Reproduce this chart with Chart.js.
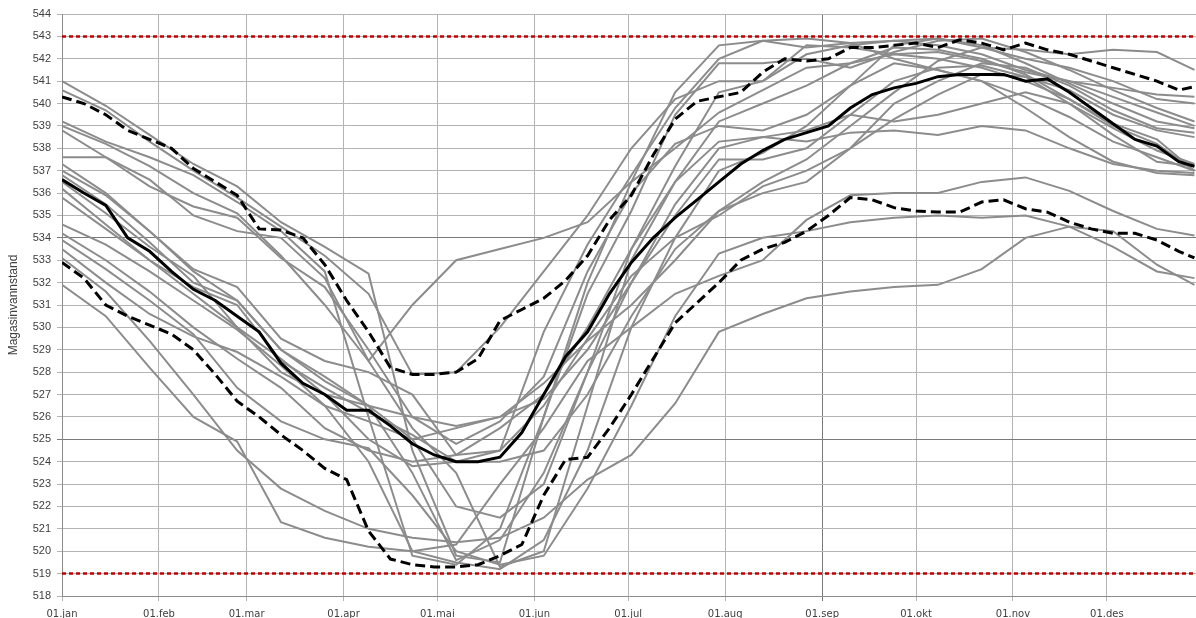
<!DOCTYPE html>
<html>
<head>
<meta charset="utf-8">
<script src="https://cdn.jsdelivr.net/npm/chart.js@4.4.1/dist/chart.umd.min.js"></script>
<style>
  body { margin: 0; background: #fff; }
</style>
</head>
<body>
<canvas id="grafico" width="1196" height="618"></canvas>
<script>
// dag i året (0 = 01.jan)
const monthDays = [0, 31, 59, 90, 120, 151, 181, 212, 243, 273, 304, 334];
const monthLabels = ['01.jan', '01.feb', '01.mar', '01.apr', '01.mai', '01.jun', '01.jul', '01.aug', '01.sep', '01.okt', '01.nov', '01.des'];
const yTicks = [518, 544];
const limits = [543, 519];

const daysFine = [0, 7, 14, 21, 28, 35, 42, 49, 56, 63, 70, 77, 84, 91, 98, 105, 112, 119, 126, 133, 140, 147, 154, 161, 168, 175, 182, 189, 196, 203, 210, 217, 224, 231, 238, 245, 252, 259, 266, 273, 280, 287, 294, 301, 308, 315, 322, 329, 336, 343, 350, 357, 362];
const daysCoarse = [0, 14, 28, 42, 56, 70, 84, 98, 112, 126, 140, 154, 168, 182, 196, 210, 224, 238, 252, 266, 280, 294, 308, 322, 336, 350, 362];

const median = [536.6, 536.0, 535.45, 534.0, 533.4, 532.5, 531.7, 531.2, 530.5, 529.8, 528.4, 527.5, 527.0, 526.3, 526.3, 525.6, 524.8, 524.3, 524.0, 524.0, 524.2, 525.3, 527.0, 528.7, 529.8, 531.5, 532.9, 534.0, 534.9, 535.7, 536.5, 537.3, 537.9, 538.4, 538.7, 539.0, 539.8, 540.4, 540.7, 540.9, 541.2, 541.3, 541.3, 541.3, 541.0, 541.1, 540.5, 539.8, 539.1, 538.4, 538.1, 537.4, 537.2];
const upper = [540.3, 540.0, 539.5, 538.8, 538.4, 538.0, 537.1, 536.5, 535.9, 534.4, 534.35, 534.0, 532.8, 531.2, 529.8, 528.2, 527.9, 527.9, 528.0, 528.6, 530.3, 530.8, 531.3, 532.1, 533.2, 534.8, 535.9, 537.7, 539.3, 540.1, 540.3, 540.5, 541.4, 542.0, 541.9, 542.0, 542.5, 542.5, 542.6, 542.7, 542.5, 542.85, 542.7, 542.4, 542.7, 542.4, 542.2, 541.9, 541.6, 541.3, 541.0, 540.6, 540.75];
const lower = [532.9, 532.2, 531.0, 530.5, 530.1, 529.7, 529.0, 527.9, 526.7, 526.0, 525.2, 524.5, 523.7, 523.2, 520.9, 519.65, 519.4, 519.3, 519.3, 519.4, 519.8, 520.3, 522.5, 524.1, 524.2, 525.5, 527.0, 528.6, 530.2, 531.1, 532.0, 533.0, 533.5, 533.8, 534.3, 535.0, 535.8, 535.7, 535.35, 535.2, 535.15, 535.15, 535.6, 535.7, 535.3, 535.15, 534.7, 534.4, 534.2, 534.2, 533.9, 533.4, 533.1];

// enkeltår
const years = [
  [541.0, 539.9, 538.6, 537.3, 536.3, 534.7, 533.6, 532.4, 524.5, 519.8, 519.5, 526.0, 532.0, 536.5, 540.5, 542.6, 542.8, 542.5, 542.7, 542.8, 542.6, 542.2, 541.5, 541.0, 540.3, 539.6, 539.0],
  [540.6, 539.7, 538.3, 537.0, 535.8, 534.5, 533.2, 531.5, 527.9, 528.0, 530.0, 532.5, 535.0, 538.0, 540.2, 541.0, 541.0, 542.2, 542.6, 542.8, 542.9, 542.5, 542.4, 542.2, 542.4, 542.3, 541.5],
  [539.2, 538.3, 537.6, 536.8, 535.6, 534.3, 532.5, 526.0, 519.8, 519.4, 521.0, 526.0, 531.5, 535.2, 539.5, 541.8, 541.8, 542.0, 541.6, 542.3, 542.8, 542.9, 542.3, 541.5, 540.6, 539.8, 539.2],
  [539.0, 538.2, 537.2, 536.0, 535.1, 533.2, 531.0, 528.5, 525.5, 523.5, 519.3, 520.0, 526.5, 533.0, 536.5, 539.2, 540.0, 540.8, 541.8, 542.5, 542.4, 542.0, 541.3, 540.2, 539.0, 538.2, 537.0],
  [538.8, 537.6, 536.3, 535.4, 534.9, 533.1, 531.8, 529.0, 526.0, 524.8, 525.8, 527.8, 532.5, 536.0, 538.2, 539.0, 538.8, 539.5, 540.8, 541.8, 541.5, 541.0, 539.8, 538.5, 537.4, 536.9, 536.8],
  [537.6, 537.6, 536.6, 535.0, 534.3, 534.0, 532.2, 528.5, 531.0, 533.0, 533.5, 534.0, 534.7, 536.5, 538.0, 539.6, 540.6, 541.6, 541.8, 542.2, 542.0, 541.6, 541.0, 540.2, 539.1, 538.4, 537.0],
  [537.0, 535.9, 534.3, 532.5, 531.2, 529.0, 527.6, 526.5, 525.0, 522.0, 521.5, 523.0, 528.0, 532.0, 535.0, 537.5, 537.5, 538.0, 539.5, 541.0, 541.6, 541.7, 541.2, 540.0, 538.9, 537.9, 537.3],
  [536.5, 535.1, 533.6, 532.3, 530.0, 528.0, 527.0, 526.5, 526.0, 525.6, 526.0, 527.5, 529.4, 531.0, 533.0, 535.2, 536.5, 537.5, 539.0, 540.5, 541.9, 542.5, 542.0, 541.6, 541.0, 540.2, 540.0],
  [536.2, 534.6, 533.0, 531.5, 530.0, 528.6, 527.0, 525.0, 523.8, 524.0, 524.0, 524.5, 527.0, 530.5, 533.5, 535.2, 536.0, 536.5, 538.0, 540.0, 541.0, 541.8, 541.6, 540.8, 539.7, 538.9, 538.7],
  [534.6, 533.7, 532.5, 531.2, 529.9, 528.3, 526.5, 524.0, 520.0, 519.5, 519.2, 520.5, 524.5, 530.0, 534.0, 537.0, 537.8, 539.0, 540.8, 542.6, 542.9, 542.6, 541.8, 540.9, 540.0, 539.2, 538.9],
  [534.2, 533.0, 531.6, 530.0, 528.6, 527.3, 525.5, 524.5, 524.0, 524.3, 525.5, 527.0, 530.0, 533.5, 536.5, 538.3, 538.5, 538.3, 538.7, 538.8, 538.6, 539.0, 538.8, 538.0, 537.3, 537.0, 536.9],
  [533.9, 532.6, 531.2, 529.7, 527.3, 525.8, 525.0, 524.6, 522.5, 520.0, 519.4, 519.8, 522.8, 526.5, 530.5, 533.3, 534.0, 534.3, 534.7, 534.9, 535.0, 534.9, 535.0, 534.5, 533.6, 532.5, 532.2],
  [533.1, 531.6, 529.4, 527.0, 524.5, 522.8, 521.8, 521.0, 520.6, 520.4, 520.6, 521.5, 523.2, 524.3, 526.6, 529.8, 530.6, 531.3, 531.6, 531.8, 531.9, 532.6, 534.0, 534.5, 534.3, 532.8, 531.9],
  [531.9, 530.5, 528.2, 526.0, 524.9, 521.3, 520.6, 520.2, 520.0, 520.3, 523.0, 525.5, 528.5, 530.0, 531.5, 532.3, 533.0, 534.8, 535.9, 536.0, 536.0, 536.5, 536.7, 536.1, 535.2, 534.4, 534.1],
  [536.8, 535.5, 533.8, 532.0, 531.2, 529.0, 527.8, 526.5, 523.5, 519.6, 520.5, 523.5, 528.0, 533.5, 537.2, 540.5, 541.0, 542.6, 542.5, 542.2, 542.3, 541.9, 541.4, 541.0, 540.7, 540.4, 540.3],
  [535.8, 534.4, 533.0, 531.8, 531.0, 528.5, 527.3, 526.2, 525.2, 524.0, 524.5, 526.5, 529.5, 532.3, 534.0, 535.0, 536.3, 537.0, 538.0, 539.3, 540.4, 541.3, 541.2, 540.6, 539.5, 538.8, 538.5],
  [533.5, 532.0, 530.6, 529.6, 528.9, 527.8, 526.5, 525.8, 525.0, 525.5, 526.0, 526.8, 529.0, 532.0, 535.5, 538.0, 538.5, 538.8, 539.5, 539.2, 539.5, 540.0, 540.5, 540.0, 538.6, 537.4, 537.2],
  [537.3, 536.0, 534.3, 532.6, 531.8, 529.5, 528.5, 528.0, 527.0, 524.3, 524.5, 529.8, 533.7, 536.8, 539.8, 542.0, 542.8, 542.9, 542.7, 542.0, 541.5, 541.0, 540.3, 539.4, 538.3, 537.6, 537.0]
];

const xMax = 362.5;
const toPoints = (days, values) => values.map((v, i) => ({ x: days[i], y: v }));

const datasets = [];
datasets.push({ data: toPoints(daysFine, median), borderColor: '#000', borderWidth: 3, order: 0 });
datasets.push({ data: toPoints(daysFine, upper), borderColor: '#000', borderWidth: 3, borderDash: [10, 5], order: 0 });
datasets.push({ data: toPoints(daysFine, lower), borderColor: '#000', borderWidth: 3, borderDash: [10, 5], order: 0 });
limits.forEach(v => {
    datasets.push({ data: [{ x: 0, y: v }, { x: xMax, y: v }], borderColor: '#c00000', borderWidth: 2.5, borderDash: [4, 3], order: 1 });
});
years.forEach(s => {
    datasets.push({ data: toPoints(daysCoarse, s), borderColor: '#8c8c8c', borderWidth: 2, order: 2 });
});

new Chart(document.getElementById('grafico'), {
    type: 'line',
    data: { datasets: datasets },
    options: {
        responsive: false,
        devicePixelRatio: 1,
        animation: false,
        layout: { padding: { top: 14, right: 0, bottom: 0, left: 0 } },
        elements: { point: { radius: 0 }, line: { tension: 0 } },
        plugins: { legend: { display: false }, tooltip: { enabled: false } },
        scales: {
            x: {
                type: 'linear',
                min: 0,
                max: xMax,
                afterBuildTicks: scale => { scale.ticks = monthDays.map(d => ({ value: d })); },
                afterFit: scale => { scale.height = 22; },
                ticks: {
                    autoSkip: false,
                    maxRotation: 0,
                    padding: 7,
                    color: '#404040',
                    font: { family: 'DejaVu Sans', size: 10 },
                    callback: (v, i) => monthLabels[i]
                },
                grid: {
                    color: ctx => (ctx.tick && ctx.tick.value === 243) ? '#7a7a7a' : '#b4b4b4',
                    tickLength: 5
                },
                border: { color: '#8c8c8c' }
            },
            y: {
                min: yTicks[0],
                max: yTicks[1],
                afterFit: scale => { scale.width = 62; },
                ticks: {
                    stepSize: 1,
                    padding: 6,
                    color: '#404040',
                    font: { family: 'Liberation Sans', size: 11 }
                },
                grid: {
                    color: ctx => (ctx.tick && (ctx.tick.value === 534 || ctx.tick.value === 525)) ? '#7a7a7a' : '#b4b4b4',
                    tickLength: 5
                },
                border: { color: '#8c8c8c' },
                title: {
                    display: true,
                    text: 'Magasinvannstand',
                    color: '#404040',
                    font: { family: 'Liberation Sans', size: 12 },
                    padding: { top: 6, bottom: 0 }
                }
            }
        }
    }
});
</script>
</body>
</html>
